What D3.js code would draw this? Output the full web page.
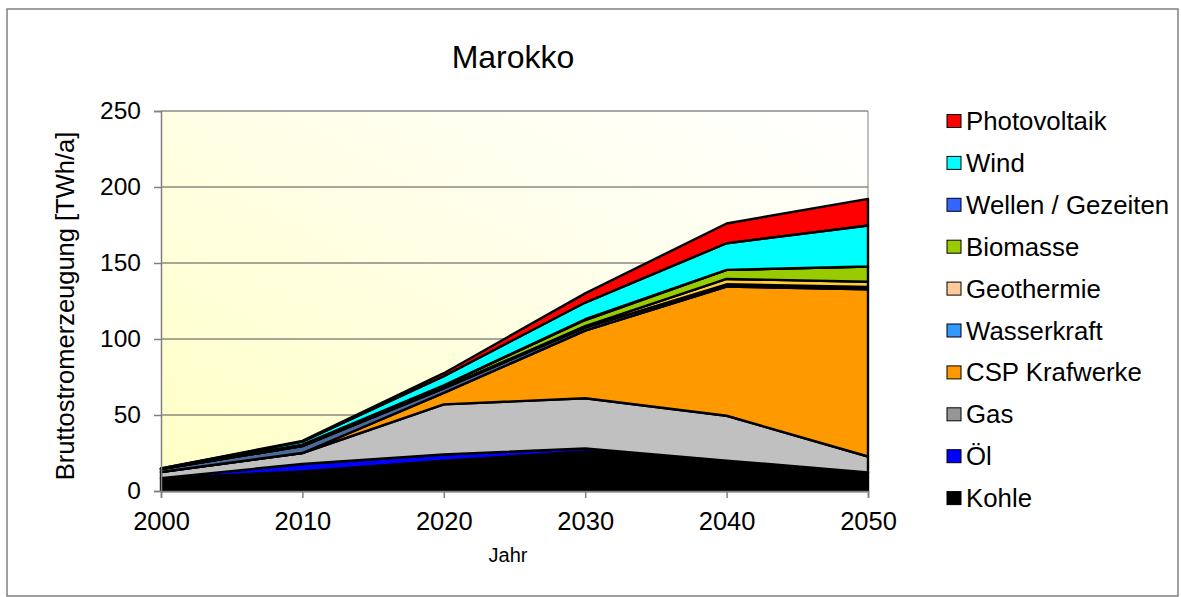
<!DOCTYPE html>
<html><head><meta charset="utf-8">
<script src="https://cdn.jsdelivr.net/npm/d3@7/dist/d3.min.js"></script>
<style>
html,body{margin:0;padding:0;background:#fff;}
svg text{font-family:"Liberation Sans",Arial,sans-serif;fill:#000;}
</style></head>
<body><svg id="c" width="1181" height="597"></svg>
<script>
// ---- data ----
const years = [2000, 2010, 2020, 2030, 2040, 2050];
const seriesNames = ["Kohle","Öl","Gas","CSP Krafwerke","Wasserkraft","Geothermie","Biomasse","Wellen / Gezeiten","Wind","Photovoltaik"];
const kohle   = [8.5, 12.8, 20, 26, 19.5, 12];
const oel     = [0, 5, 4, 2, 0.5, 0.2];
const gas     = [4, 7.2, 33, 33, 29.5, 10.5];
const csp     = [0, 0, 7.5, 44.5, 85, 110];
const wasser  = [2, 4.5, 3, 2, 1.5, 1.5];
const geo     = [0, 0, 0.5, 1, 3.5, 3.5];
const bio     = [0, 1, 1.5, 4, 6, 10];
const wellen  = [0, 0, 0, 0.5, 0, 0];
const wind    = [0.3, 2, 6, 11, 17.5, 27];
const pv      = [0, 0.5, 2, 6, 13, 17.5];
const yTicks  = [0, 50, 100, 150, 200, 250];
const seriesValues = [kohle, oel, gas, csp, wasser, geo, bio, wellen, wind, pv];

// ---- styles ----
const areaColors   = ["#000000","#0000FF","#C0C0C0","#FF9900","#4A6A9A","#FFCC33","#99CC00","#3366FF","#00FFFF","#FF0000"];
const legendColors = ["#000000","#0000FF","#969696","#FF9900","#3399FF","#FFCC99","#99CC00","#3366FF","#00FFFF","#FF0000"];

const svg = d3.select("#c");
const plot = {x0:161, x1:868, y0:111, y1:491};

// outer border
svg.append("rect").attr("x",7).attr("y",9).attr("width",1171).attr("height",587)
  .attr("fill","#fff").attr("stroke","#808080").attr("stroke-width",1.5);

const x = d3.scaleLinear().domain([2000,2050]).range([plot.x0, plot.x1]);
const y = d3.scaleLinear().domain([0,250]).range([plot.y1, plot.y0]);

// background gradient
const defs = svg.append("defs");
const grad = defs.append("linearGradient").attr("id","bg")
  .attr("x1","0").attr("y1","1").attr("x2","1").attr("y2","0");
grad.append("stop").attr("offset","0").attr("stop-color","#FFFFC4");
grad.append("stop").attr("offset","0.55").attr("stop-color","#FFFFE8");
grad.append("stop").attr("offset","1").attr("stop-color","#FFFFFF");
svg.append("rect").attr("x",plot.x0).attr("y",plot.y0)
  .attr("width",plot.x1-plot.x0).attr("height",plot.y1-plot.y0)
  .attr("fill","url(#bg)");

// gridlines
svg.append("g").selectAll("line").data(yTicks.filter(d=>d>0)).join("line")
  .attr("x1",plot.x0).attr("x2",plot.x1)
  .attr("y1",d=>y(d)).attr("y2",d=>y(d))
  .attr("stroke","#505050").attr("stroke-width",1);
svg.append("line").attr("x1",plot.x1).attr("x2",plot.x1).attr("y1",plot.y0).attr("y2",plot.y1)
  .attr("stroke","#808080");

// stack
const table = years.map((yr,i)=>{
  const o = {year: yr};
  seriesNames.forEach((n,k)=>{ o[n] = seriesValues[k][i]; });
  return o;
});
const stack = d3.stack().keys(seriesNames)(table);
const area = d3.area().x(d=>x(d.data.year)).y0(d=>y(d[0])).y1(d=>y(d[1]));
svg.append("g").selectAll("path").data(stack).join("path")
  .attr("d",area)
  .attr("fill",(d,i)=>areaColors[i])
  .attr("stroke","#000").attr("stroke-width",2.4).attr("stroke-linejoin","round");

// axes
const yAxis = d3.axisLeft(y).tickValues(yTicks).tickSize(7).tickPadding(13);
const gy = svg.append("g").attr("transform",`translate(${plot.x0},0)`).call(yAxis);
gy.select(".domain").attr("stroke","#808080").attr("stroke-width",1.5);
gy.selectAll(".tick line").attr("stroke","#808080").attr("stroke-width",1.5);
gy.selectAll("text").style("font-size","24.5px");

const xAxis = d3.axisBottom(x).tickValues(years).tickFormat(d3.format("d")).tickSize(7).tickPadding(14);
const gx = svg.append("g").attr("transform",`translate(0,${plot.y1})`).call(xAxis);
gx.select(".domain").attr("stroke","#808080").attr("stroke-width",1.5);
gx.selectAll(".tick line").attr("stroke","#808080").attr("stroke-width",1.5);
gx.selectAll("text").style("font-size","25.5px");

// titles
svg.append("text").attr("x",513).attr("y",68).attr("text-anchor","middle")
  .style("font-size","32px").text("Marokko");
svg.append("text").attr("x",508).attr("y",562).attr("text-anchor","middle")
  .style("font-size","20px").text("Jahr");
svg.append("text").attr("transform","translate(74,306) rotate(-90)").attr("text-anchor","middle")
  .style("font-size","25.5px").text("Bruttostromerzeugung [TWh/a]");

// legend (top = last series)
const legendOrder = d3.range(seriesNames.length).reverse();
const lg = svg.append("g");
legendOrder.forEach((k,j)=>{
  const cy = 121 + j*41.9;
  lg.append("rect").attr("x",947).attr("y",cy-6.5).attr("width",14).attr("height",13)
    .attr("fill",legendColors[k]).attr("stroke","#000").attr("stroke-width",1);
  lg.append("text").attr("x",966).attr("y",cy+9).style("font-size","25.8px").text(seriesNames[k]);
});
</script></body></html>
